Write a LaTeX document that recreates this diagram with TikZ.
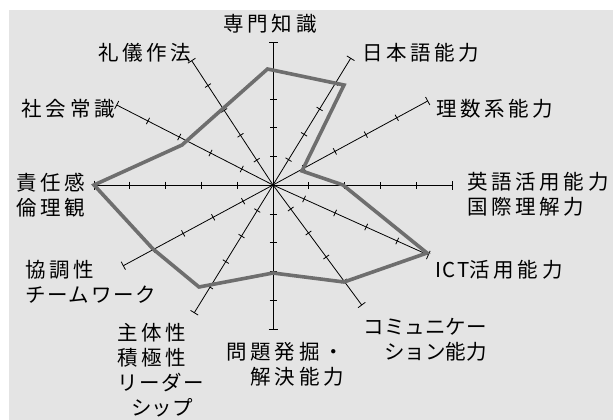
\documentclass[tikz,border=0pt]{standalone}
\usepackage{fontspec}
\setmainfont{Noto Sans CJK JP}[LetterSpace=18]
\newfontfamily\tightfont{Noto Sans CJK JP}
\newfontfamily\katafont{Noto Sans CJK JP}[LetterSpace=8]
\usetikzlibrary{calc}
\definecolor{chartBack}{HTML}{E4E4E4}
\definecolor{scoreLine}{HTML}{6E6E6E}

\begin{document}
\begin{tikzpicture} [x = 1pt, y = -1pt,
	axis/.style = {line width = 0.8pt},
	score/.style = {line width = 3.6pt, draw = scoreLine},
	skill/.style = {inner sep = 0pt, font = \fontsize{20.5}{25}\selectfont}]

	\useasboundingbox (0, 0) rectangle (613, 420);
	\fill [chartBack] (9, 10) rectangle (613, 420);

		% Define coordinates.

	%centre
	\coordinate (origin) at (273, 185);

	%axis ends, clockwise from the top
	\coordinate (A0) at (273, 42);
	\coordinate (A1) at (350.7, 58.3);
	\coordinate (A2) at (427.7, 101);
	\coordinate (A3) at (452, 185);
	\coordinate (A4) at (428.3, 255);
	\coordinate (A5) at (361.7, 305);
	\coordinate (A6) at (273, 329.5);
	\coordinate (A7) at (194.3, 312.7);
	\coordinate (A8) at (123.3, 265.7);
	\coordinate (A9) at (94, 185);
	\coordinate (A10) at (116.7, 105);
	\coordinate (A11) at (191.7, 60.7);

	%score polygon
	\coordinate (S0) at (267.5, 69);
	\coordinate (S1) at (344, 85);
	\coordinate (S2) at (302, 171);
	\coordinate (S3) at (343, 185);
	\coordinate (S4) at (427, 253);
	\coordinate (S5) at (344, 282);
	\coordinate (S6) at (273, 273);
	\coordinate (S7) at (199, 287);
	\coordinate (S8) at (153, 249);
	\coordinate (S9) at (94, 185);
	\coordinate (S10) at (182, 145);
	\coordinate (S11) at (223, 108.5);

% Draw axes.

	\foreach \i in {0,...,11}
		\draw [axis] (origin) -- (A\i);

	%ticks and end caps
	\foreach \i in {0,...,11} {
		\foreach \t in {0.2, 0.4, 0.6, 0.8} {
			\coordinate (tk) at ($(origin)!\t!(A\i)$);
			\draw [axis] ($(tk)!3.5pt!90:(origin)$) -- ($(tk)!3.5pt!-90:(origin)$);
		}
		\draw [axis] ($(A\i)!4.5pt!90:(origin)$) -- ($(A\i)!4.5pt!-90:(origin)$);
	}

% Draw scores.

	\draw [score] (S0) -- (S1) -- (S2) -- (S3) -- (S4) -- (S5) -- (S6) -- (S7) -- (S8) -- (S9) -- (S10) -- (S11) -- cycle;

% Labels (base = last line).

	\node [skill, anchor = base] (senmon) at (270, 32) {専門知識};
	\node [skill, anchor = base west] (nihongo) at (362, 60) {日本語能力};
	\node [skill, anchor = base west] (risu) at (436, 116) {理数系能力};
	\node [skill, anchor = base west, align = left] (eigo) at (467, 214) {英語活用能力\\国際理解力};
	\node [skill, anchor = base west] (ict) at (435, 277) {{\katafont ICT}活用能力};
	\node [skill, anchor = base east, align = right] (komyu) at (487, 359) {{\tightfont コミュニケー}\\{\tightfont ション能力}};
	\node [skill, anchor = base east, align = right] (mondai) at (344, 384) {問題発掘・\\解決能力};
	\node [skill, anchor = base west, align = left] (shutai) at (117, 415.5) {主体性\\積極性\\{\katafont リーダー}\\\hspace*{14pt}{\tightfont シップ}};
	\node [skill, anchor = base west, align = left] (kyocho) at (25, 302) {協調性\\{\katafont チームワーク}};
	\node [skill, anchor = base west, align = left] (sekinin) at (16, 215) {責任感\\倫理観};
	\node [skill, anchor = base west] (shakai) at (21.5, 116) {社会常識};
	\node [skill, anchor = base west] (reigi) at (98, 60) {礼儀作法};

\end{tikzpicture}
\end{document}
